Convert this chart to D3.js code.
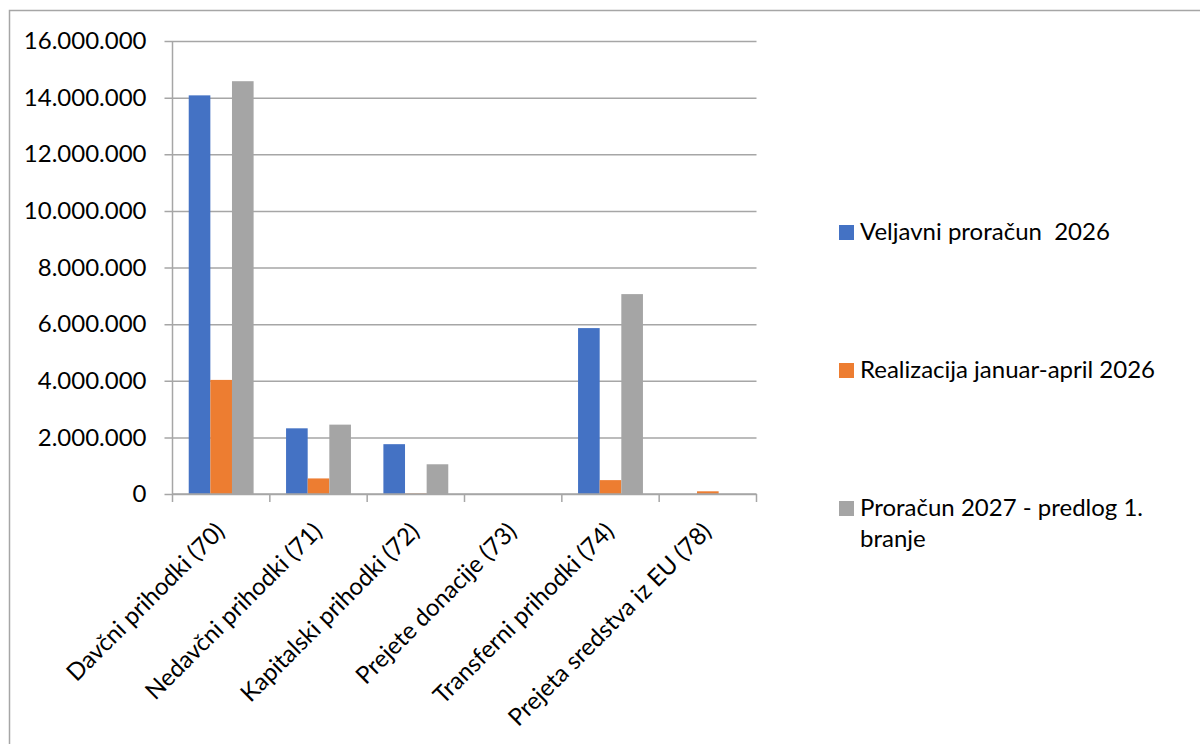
<!DOCTYPE html>
<html>
<head>
<meta charset="utf-8">
<script src="https://cdn.jsdelivr.net/npm/d3@7"></script>
<style>
  html, body { margin: 0; padding: 0; background: #fff; }
  svg { display: block; }
</style>
</head>
<body>
<svg id="chart"></svg>
<script>
// Data
const categories = [
    "Davčni prihodki (70)",
    "Nedavčni prihodki (71)",
    "Kapitalski prihodki (72)",
    "Prejete donacije (73)",
    "Transferni prihodki (74)",
    "Prejeta sredstva iz EU (78)"
];
const seriesNames = [
    "Veljavni proračun  2026",
    "Realizacija januar-april 2026",
    "Proračun 2027 - predlog 1. branje"
];
const veljavni2026 = [14080000, 2320000, 1760000, 0, 5860000, 0];
const realizacija2026 = [4030000, 550000, 15000, 0, 490000, 95000];
const proracun2027 = [14580000, 2450000, 1050000, 0, 7060000, 0];
const yTicks = [0, 2000000, 4000000, 6000000, 8000000, 10000000, 12000000, 14000000, 16000000];

const seriesValues = [veljavni2026, realizacija2026, proracun2027];
const colors = ["#4472C4", "#ED7D31", "#A5A5A5"];

const width = 1200, height = 744;
const font = "Lato, 'Open Sans', sans-serif";
const fontSize = 24;

const plot = { left: 172.5, right: 756.5, top: 41, bottom: 494 };

const svg = d3.select("#chart")
    .attr("width", width)
    .attr("height", height)
    .attr("viewBox", [0, 0, width, height]);

// outer frame (runs off the right and bottom edges)
svg.append("rect")
    .attr("x", 9.5).attr("y", 10.5)
    .attr("width", 1300).attr("height", 900)
    .attr("fill", "none")
    .attr("stroke", "#a6a6a6")
    .attr("stroke-width", 1.5);

const x = d3.scaleBand()
    .domain(categories)
    .range([plot.left, plot.right])
    .paddingInner(0)
    .paddingOuter(0);

const gapRatio = 1.5; // excel gap width 150%
const barW = x.bandwidth() / (seriesNames.length + gapRatio);
const x1 = d3.scaleBand()
    .domain(d3.range(seriesNames.length))
    .range([barW * gapRatio / 2, x.bandwidth() - barW * gapRatio / 2]);

const y = d3.scaleLinear()
    .domain([0, 16000000])
    .range([plot.bottom, plot.top]);

const fmt = v => d3.format(",")(v).replace(/,/g, ".");

// gridlines + y labels
const yAxis = svg.append("g")
    .attr("transform", `translate(${plot.left},0)`)
    .call(d3.axisLeft(y).tickValues(yTicks).tickFormat(fmt).tickSize(0).tickPadding(26));
yAxis.select(".domain").remove();
yAxis.selectAll(".tick line")
    .attr("x1", -8)
    .attr("x2", plot.right - plot.left)
    .attr("stroke", "#a6a6a6")
    .attr("stroke-width", 1.5);
yAxis.selectAll(".tick text")
    .attr("font-family", font)
    .attr("font-size", fontSize)
    .attr("fill", "#000");

// vertical axis line
svg.append("line")
    .attr("x1", plot.left).attr("x2", plot.left)
    .attr("y1", plot.top).attr("y2", plot.bottom)
    .attr("stroke", "#a6a6a6")
    .attr("stroke-width", 1.5);

// bars
const groups = svg.append("g")
    .selectAll("g")
    .data(categories)
    .join("g")
    .attr("transform", d => `translate(${x(d)},0)`);

groups.selectAll("rect")
    .data((d, i) => seriesValues.map((s, j) => ({ j, v: s[i] })))
    .join("rect")
    .attr("x", d => x1(d.j))
    .attr("width", x1.bandwidth())
    .attr("y", d => y(d.v))
    .attr("height", d => y(0) - y(d.v))
    .attr("fill", d => colors[d.j]);

// x axis baseline + ticks at band edges
const xAxis = svg.append("g");
xAxis.append("line")
    .attr("x1", plot.left).attr("x2", plot.right)
    .attr("y1", plot.bottom).attr("y2", plot.bottom)
    .attr("stroke", "#a6a6a6")
    .attr("stroke-width", 1.5);
const edges = categories.map(c => x(c)).concat([plot.right]);
xAxis.selectAll("line.tk")
    .data(edges)
    .join("line")
    .attr("class", "tk")
    .attr("x1", d => d).attr("x2", d => d)
    .attr("y1", plot.bottom).attr("y2", plot.bottom + 8)
    .attr("stroke", "#a6a6a6")
    .attr("stroke-width", 1.5);

// rotated category labels
svg.append("g")
    .selectAll("text")
    .data(categories)
    .join("text")
    .attr("transform", d => `translate(${x(d) + x.bandwidth() / 2 - 1},${plot.bottom + 33}) rotate(-45)`)
    .attr("text-anchor", "end")
    .attr("dy", "0.35em")
    .attr("font-family", font)
    .attr("font-size", fontSize)
    .attr("fill", "#000")
    .text(d => d);

// legend
const legendY = [225, 363, 501];
const legendLines = [
    ["Veljavni proračun  2026"],
    ["Realizacija januar-april 2026"],
    ["Proračun 2027 - predlog 1.", "branje"]
];
const legend = svg.append("g")
    .selectAll("g")
    .data(seriesNames)
    .join("g")
    .attr("transform", (d, i) => `translate(839,${legendY[i]})`);

legend.append("rect")
    .attr("width", 15)
    .attr("height", 15)
    .attr("fill", (d, i) => colors[i]);

legend.append("text")
    .attr("font-family", font)
    .attr("font-size", fontSize)
    .attr("fill", "#000")
    .style("white-space", "pre")
    .selectAll("tspan")
    .data((d, i) => legendLines[i])
    .join("tspan")
    .attr("x", 21)
    .attr("y", (d, k) => 15 + k * 31)
    .text(d => d);
</script>
</body>
</html>
